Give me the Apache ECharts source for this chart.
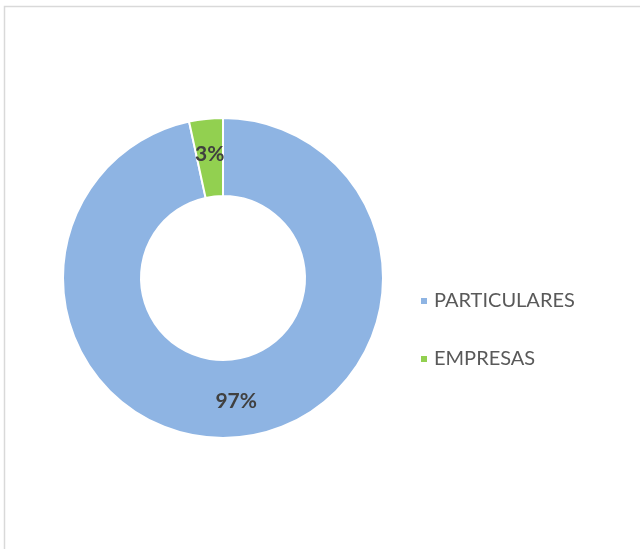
<!DOCTYPE html>
<html>
<head>
<meta charset="utf-8">
<script src="https://cdn.jsdelivr.net/npm/echarts@6/dist/echarts.min.js"></script>
<style>
  html, body { margin: 0; padding: 0; background: #fff; }
  #main { width: 640px; height: 549px; }
</style>
</head>
<body>
<div id="main"></div>
<script>
var categories = ['PARTICULARES', 'EMPRESAS'];
var values = [96.6, 3.4];
var colors = ['#8eb4e3', '#92d050'];

var dom = document.getElementById('main');
var myChart = echarts.init(dom);

var seriesData = categories.map(function (name, i) {
  return {
    name: name,
    value: values[i],
    itemStyle: { color: colors[i] }
  };
});

var option = {
  textStyle: {
    fontFamily: ['Lato', 'Open Sans', 'sans-serif'],
  },
  graphic: [
    {
      type: 'rect',
      shape: { x: 4.5, y: 6.5, width: 700, height: 600 },
      style: { fill: 'none', stroke: '#d9d9d9', lineWidth: 1.5 },
      silent: true
    }
  ],
  legend: {
    orient: 'vertical',
    left: 414,
    top: 286,
    itemWidth: 8,
    itemHeight: 8,
    itemGap: 38,
    icon: 'rect',
    data: categories,
    textStyle: {
      fontSize: 20,
      color: '#595959',
      padding: [0, 0, 0, 1]
    }
  },
  series: [
    {
      name: 'Clientes',
      type: 'pie',
      center: [223, 278],
      radius: [82, 160],
      startAngle: 90,
      clockwise: true,
      percentPrecision: 0,
      avoidLabelOverlap: false,
      silent: true,
      itemStyle: {
        borderColor: '#fff',
        borderWidth: 2
      },
      label: {
        show: true,
        position: 'inside',
        formatter: '{d}%',
        fontSize: 21,
        fontWeight: 'bold',
        color: '#404040'
      },
      labelLine: { show: false },
      data: seriesData
    }
  ]
};

if (option && typeof option === "object") {
  myChart.setOption(option, true);
}
</script>
</body>
</html>
